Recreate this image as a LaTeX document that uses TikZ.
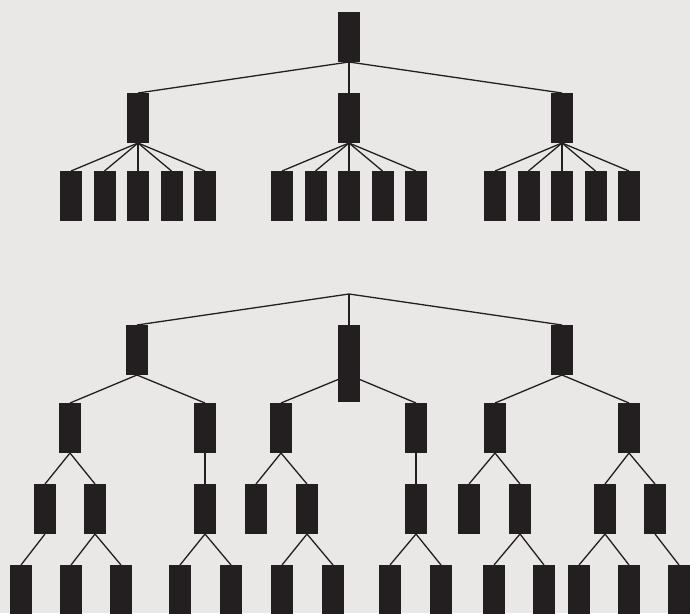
\documentclass[tikz,border=0pt]{standalone}
\definecolor{paper}{RGB}{234,232,230}
\definecolor{ink}{RGB}{35,31,32}
\pgfdeclarelayer{back}
\pgfdeclarelayer{wires}
\pgfsetlayers{back,wires,main}
\tikzset{
  blk/.style={fill=ink, minimum width=22pt, minimum height=50pt, inner sep=0pt, outer sep=0pt},
  tallblk/.style={blk, minimum height=77pt},
  wire/.style={draw=ink, line width=1.3pt}
}
\begin{document}
\begin{tikzpicture}[x=1pt, y=-1pt]
  \begin{pgfonlayer}{back}
    \fill[paper] (0,0) rectangle (690,613);
  \end{pgfonlayer}
  \clip (0,0) rectangle (690,613);
  % upper tree
  \node[blk] (r) at (349,37) {};
  \foreach \n/\x in {1/138,2/349,3/562}{
    \node[blk] (a\n) at (\x,118) {};
    \begin{pgfonlayer}{wires}
      \draw[wire] (r.south) -- (a\n.north);
    \end{pgfonlayer}
    \foreach \k/\dx in {1/-67,2/-33.5,3/0,4/33.5,5/67}{
      \node[blk] (a\n\k) at (\x+\dx,196) {};
      \begin{pgfonlayer}{wires}
        \draw[wire] (a\n.south) -- (a\n\k.north);
      \end{pgfonlayer}
    }
  }
  % lower tree
  \coordinate (j) at (349,294);
  \node[blk] (b1) at (137,350) {};
  \node[tallblk] (b2) at (349,363.5) {};
  \node[blk] (b3) at (562,350) {};
  \coordinate (b2m) at (349,375);
  \node[blk] (c1) at (70,428) {};
  \node[blk] (c2) at (205,428) {};
  \node[blk] (c3) at (281,428) {};
  \node[blk] (c4) at (416,428) {};
  \node[blk] (c5) at (495,428) {};
  \node[blk] (c6) at (629,428) {};
  \node[blk] (d1) at (45,509) {};
  \node[blk] (d2) at (95,509) {};
  \node[blk] (d3) at (205,509) {};
  \node[blk] (d4) at (256,509) {};
  \node[blk] (d5) at (307,509) {};
  \node[blk] (d6) at (416,509) {};
  \node[blk] (d7) at (469,509) {};
  \node[blk] (d8) at (520,509) {};
  \node[blk] (d9) at (605,509) {};
  \node[blk] (d10) at (655,509) {};
  \node[blk] (e1) at (21,590) {};
  \node[blk] (e2) at (71,590) {};
  \node[blk] (e3) at (121,590) {};
  \node[blk] (e4) at (180,590) {};
  \node[blk] (e5) at (231,590) {};
  \node[blk] (e6) at (282,590) {};
  \node[blk] (e7) at (333,590) {};
  \node[blk] (e8) at (390,590) {};
  \node[blk] (e9) at (441,590) {};
  \node[blk] (e10) at (494,590) {};
  \node[blk] (e11) at (544,590) {};
  \node[blk] (e12) at (579,590) {};
  \node[blk] (e13) at (629,590) {};
  \node[blk] (e14) at (679,590) {};
  \begin{pgfonlayer}{wires}
    \draw[wire] (b1.north) -- (j) -- (b3.north);
    \draw[wire] (j) -- (b2.north);
    \draw[wire] (c3.north) -- (b2m) -- (c4.north);
    \foreach \p/\c in {b1/c1,b1/c2,b3/c5,b3/c6,
        c1/d1,c1/d2,c2/d3,c3/d4,c3/d5,c4/d6,c5/d7,c5/d8,c6/d9,c6/d10,
        d1/e1,d2/e2,d2/e3,d3/e4,d3/e5,d5/e6,d5/e7,d6/e8,d6/e9,
        d8/e10,d8/e11,d9/e12,d9/e13,d10/e14}
      \draw[wire] (\p.south) -- (\c.north);
  \end{pgfonlayer}
\end{tikzpicture}
\end{document}
